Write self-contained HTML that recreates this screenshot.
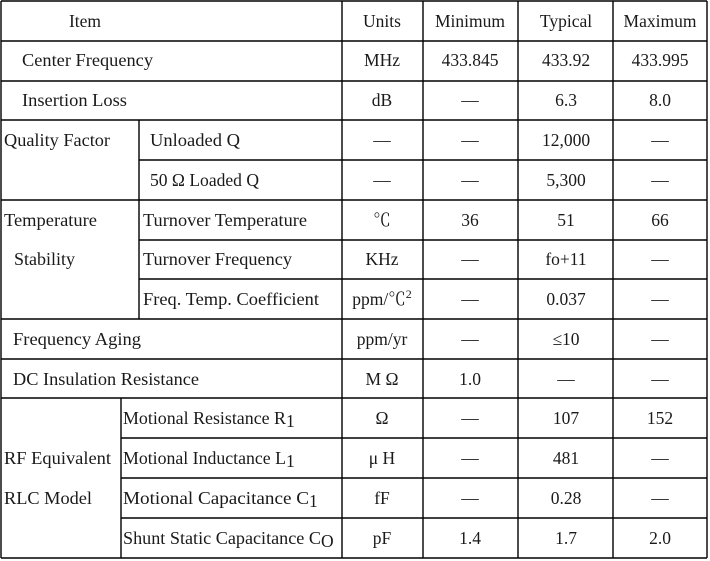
<!DOCTYPE html>
<html><head><meta charset="utf-8"><style>
html,body{margin:0;padding:0;background:#fff;}
svg{display:block;}
text{font-family:"Liberation Serif","Noto Serif CJK SC",serif;font-size:17.5px;fill:#1a1a1a;}
.c{text-anchor:middle;}
</style></head><body>
<svg width="710" height="561" viewBox="0 0 710 561" xmlns="http://www.w3.org/2000/svg">
<g stroke="#000" stroke-width="1.4">
<line x1="1" y1="1" x2="707" y2="1"/>
<line x1="1" y1="41" x2="707" y2="41"/>
<line x1="1" y1="81" x2="707" y2="81"/>
<line x1="1" y1="120" x2="707" y2="120"/>
<line x1="139" y1="160" x2="707" y2="160"/>
<line x1="1" y1="200" x2="707" y2="200"/>
<line x1="139" y1="240" x2="707" y2="240"/>
<line x1="139" y1="279" x2="707" y2="279"/>
<line x1="1" y1="319" x2="707" y2="319"/>
<line x1="1" y1="359" x2="707" y2="359"/>
<line x1="1" y1="398" x2="707" y2="398"/>
<line x1="121" y1="438" x2="707" y2="438"/>
<line x1="121" y1="478" x2="707" y2="478"/>
<line x1="121" y1="518" x2="707" y2="518"/>
<line x1="1" y1="558" x2="707" y2="558"/>
<line x1="1" y1="1" x2="1" y2="558"/>
<line x1="707" y1="1" x2="707" y2="558"/>
<line x1="342" y1="1" x2="342" y2="558"/>
<line x1="423" y1="1" x2="423" y2="558"/>
<line x1="518" y1="1" x2="518" y2="558"/>
<line x1="613" y1="1" x2="613" y2="558"/>
<line x1="139" y1="120" x2="139" y2="319"/>
<line x1="121" y1="398" x2="121" y2="558"/>
</g>
<!-- header -->
<text x="85" y="27" class="c">Item</text>
<text x="382" y="27" class="c">Units</text>
<text x="470" y="27" class="c">Minimum</text>
<text x="566" y="27" class="c">Typical</text>
<text x="660" y="27" class="c">Maximum</text>
<!-- left labels -->
<text x="22" y="66" textLength="131" lengthAdjust="spacingAndGlyphs">Center Frequency</text>
<text x="22" y="106" textLength="105" lengthAdjust="spacingAndGlyphs">Insertion Loss</text>
<text x="4" y="146" textLength="106" lengthAdjust="spacingAndGlyphs">Quality Factor</text>
<text x="150" y="146" textLength="90" lengthAdjust="spacingAndGlyphs">Unloaded Q</text>
<text x="150" y="186" textLength="109" lengthAdjust="spacingAndGlyphs">50 Ω Loaded Q</text>
<text x="4" y="226" textLength="93" lengthAdjust="spacingAndGlyphs">Temperature</text>
<text x="14" y="265" textLength="61" lengthAdjust="spacingAndGlyphs">Stability</text>
<text x="143" y="226" textLength="164" lengthAdjust="spacingAndGlyphs">Turnover Temperature</text>
<text x="143" y="265" textLength="149" lengthAdjust="spacingAndGlyphs">Turnover Frequency</text>
<text x="143" y="305" textLength="176" lengthAdjust="spacingAndGlyphs">Freq. Temp. Coefficient</text>
<text x="13" y="345" textLength="128" lengthAdjust="spacingAndGlyphs">Frequency Aging</text>
<text x="13" y="385" textLength="186" lengthAdjust="spacingAndGlyphs">DC Insulation Resistance</text>
<text x="4" y="464" textLength="107" lengthAdjust="spacingAndGlyphs">RF Equivalent</text>
<text x="4" y="504" textLength="88" lengthAdjust="spacingAndGlyphs">RLC Model</text>
<text x="123" y="424" textLength="163" lengthAdjust="spacingAndGlyphs">Motional Resistance R</text><text x="286" y="427" font-size="13">1</text>
<text x="123" y="464" textLength="163" lengthAdjust="spacingAndGlyphs">Motional Inductance L</text><text x="286" y="467" font-size="13">1</text>
<text x="123" y="504" textLength="186" lengthAdjust="spacingAndGlyphs">Motional Capacitance C</text><text x="309" y="507" font-size="13">1</text>
<text x="123" y="544" textLength="198" lengthAdjust="spacingAndGlyphs">Shunt Static Capacitance C</text><text x="321" y="547" font-size="13">O</text>
<!-- units -->
<text x="382" y="66" class="c">MHz</text>
<text x="382" y="106" class="c">dB</text>
<text x="382" y="146" class="c">—</text>
<text x="382" y="186" class="c">—</text>
<text x="382" y="226" class="c">℃</text>
<text x="382" y="265" class="c">KHz</text>
<text x="382" y="305" class="c">ppm/℃<tspan font-size="12" dy="-7">2</tspan></text>
<text x="382" y="345" class="c">ppm/yr</text>
<text x="382" y="385" class="c">M Ω</text>
<text x="382" y="424" class="c">Ω</text>
<text x="382" y="464" class="c">μ H</text>
<text x="382" y="504" class="c">fF</text>
<text x="382" y="544" class="c">pF</text>
<!-- minimum -->
<text x="470" y="66" class="c">433.845</text>
<text x="470" y="106" class="c">—</text>
<text x="470" y="146" class="c">—</text>
<text x="470" y="186" class="c">—</text>
<text x="470" y="226" class="c">36</text>
<text x="470" y="265" class="c">—</text>
<text x="470" y="305" class="c">—</text>
<text x="470" y="345" class="c">—</text>
<text x="470" y="385" class="c">1.0</text>
<text x="470" y="424" class="c">—</text>
<text x="470" y="464" class="c">—</text>
<text x="470" y="504" class="c">—</text>
<text x="470" y="544" class="c">1.4</text>
<!-- typical -->
<text x="566" y="66" class="c">433.92</text>
<text x="566" y="106" class="c">6.3</text>
<text x="566" y="146" class="c">12,000</text>
<text x="566" y="186" class="c">5,300</text>
<text x="566" y="226" class="c">51</text>
<text x="566" y="265" class="c">fo+11</text>
<text x="566" y="305" class="c">0.037</text>
<text x="566" y="345" class="c">≤10</text>
<text x="566" y="385" class="c">—</text>
<text x="566" y="424" class="c">107</text>
<text x="566" y="464" class="c">481</text>
<text x="566" y="504" class="c">0.28</text>
<text x="566" y="544" class="c">1.7</text>
<!-- maximum -->
<text x="660" y="66" class="c">433.995</text>
<text x="660" y="106" class="c">8.0</text>
<text x="660" y="146" class="c">—</text>
<text x="660" y="186" class="c">—</text>
<text x="660" y="226" class="c">66</text>
<text x="660" y="265" class="c">—</text>
<text x="660" y="305" class="c">—</text>
<text x="660" y="345" class="c">—</text>
<text x="660" y="385" class="c">—</text>
<text x="660" y="424" class="c">152</text>
<text x="660" y="464" class="c">—</text>
<text x="660" y="504" class="c">—</text>
<text x="660" y="544" class="c">2.0</text>
</svg>
</body></html>
